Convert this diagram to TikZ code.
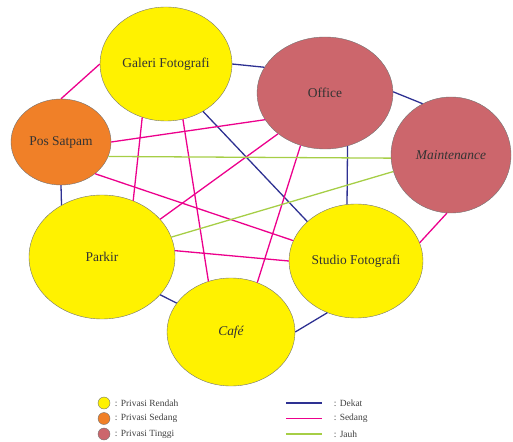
\documentclass[tikz,border=0pt]{standalone}
\usepackage{fontspec}
\setmainfont{Liberation Serif}
\usetikzlibrary{shapes.geometric}
\definecolor{rendah}{RGB}{255,242,0}
\definecolor{sedang}{RGB}{240,128,40}
\definecolor{tinggi}{RGB}{204,102,108}
\definecolor{dekat}{RGB}{46,49,146}
\definecolor{sdg}{RGB}{236,0,140}
\definecolor{jauh}{RGB}{166,206,70}

\begin{document}
\begin{tikzpicture}[x=1bp,y=-1bp,line width=1.3pt]
\tikzstyle{room}=[ellipse,draw=black!55,line width=0.4pt,inner sep=0pt,text=black!80,font=\fontsize{13.5}{15}\selectfont]
\tikzstyle{leg}=[anchor=west,text=black!75,font=\fontsize{9.5}{11}\selectfont]
\useasboundingbox (0,0) rectangle (513,442);
% ruang
\node[room,fill=rendah,minimum width=132bp,minimum height=114bp] (gal) at (166,64) {Galeri Fotografi};
\node[room,fill=sedang,minimum width=100bp,minimum height=86bp] (pos) at (61,142) {Pos Satpam};
\node[room,fill=tinggi,minimum width=136bp,minimum height=112bp] (off) at (325,93) {Office};
\node[room,fill=tinggi,minimum width=120bp,minimum height=116bp] (mnt) at (451,155) {\itshape Maintenance};
\node[room,fill=rendah,minimum width=146bp,minimum height=124bp] (pkr) at (102,257) {Parkir};
\node[room,fill=rendah,minimum width=134bp,minimum height=114bp] (std) at (356,261) {Studio Fotografi};
\node[room,fill=rendah,minimum width=128bp,minimum height=108bp] (caf) at (231,332) {\itshape Café};
% hubungan antar ruang
\foreach \a/\b in {gal.0/off.157,off.1/mnt.119,gal.-52/std.141,off.-67/std.99,pos.-90/pkr.128,pkr.-33/caf.152,caf.0/std.-119}
  \draw[dekat] (\a) -- (\b);
\foreach \a/\b in {gal.180/pos.90,pos.0/off.204,pos.-43/std.162,gal.-114/pkr.61,gal.-73/caf.114,off.-139/pkr.33,off.-115/caf.62,pkr.5/std.180,mnt.-94/std.16}
  \draw[sdg] (\a) -- (\b);
\foreach \a/\b in {pos.-17/mnt.183,mnt.196/pkr.16}
  \draw[jauh] (\a) -- (\b);
% keterangan
\foreach \i/\c/\t in {0/rendah/Rendah,1/sedang/Sedang,2/tinggi/Tinggi} {
  \node[circle,draw=black!55,line width=0.4pt,fill=\c,minimum size=12bp,inner sep=0pt] (k\i) at (104,403+\i*15.5) {};
  \node[leg] (kt\i) at (111,403+\i*15.5) {: Privasi \t};
}
\foreach \i/\c/\t in {0/dekat/Dekat,1/sdg/Sedang,2/jauh/Jauh} {
  \coordinate (ga\i) at (286,403+\i*15.5);
  \coordinate (gb\i) at (322,403+\i*15.5);
  \draw[\c,line width=1.5pt] (ga\i) -- (gb\i);
  \node[leg] (gt\i) at (330,403+\i*15.5) {: \t};
}
\end{tikzpicture}
\end{document}
